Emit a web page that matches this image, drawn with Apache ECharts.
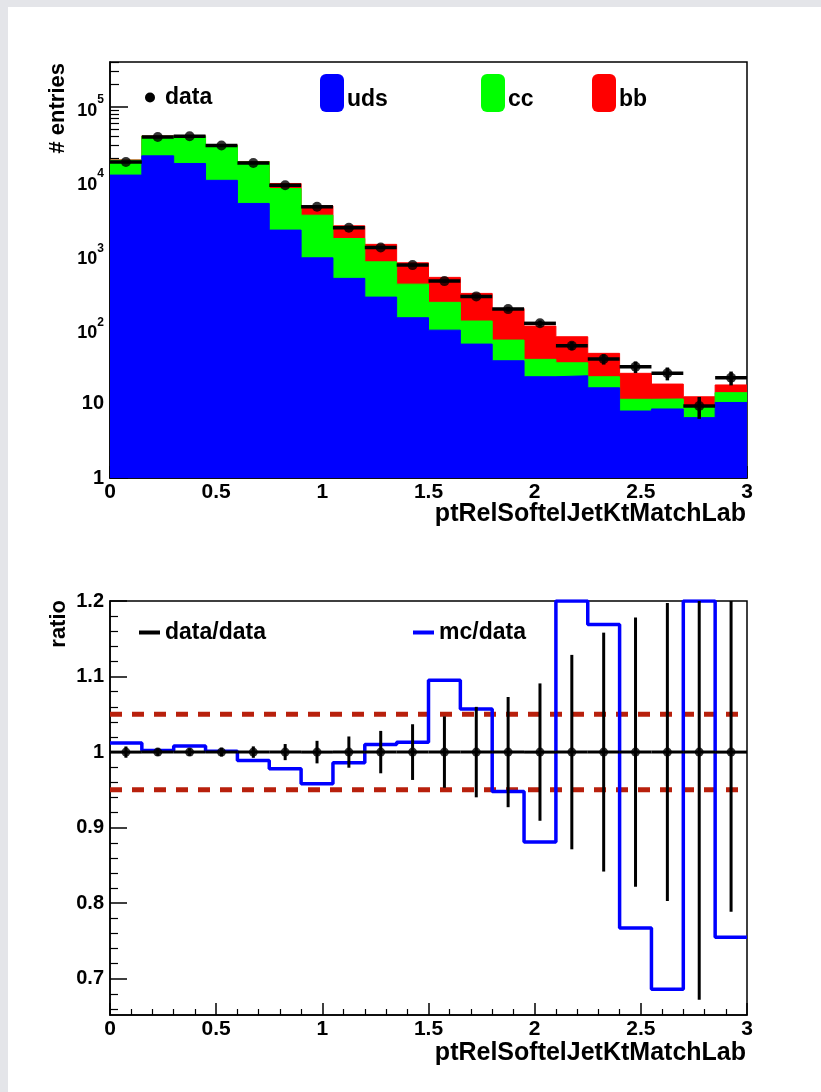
<!DOCTYPE html>
<html>
<head>
<meta charset="utf-8">
<script src="https://cdn.jsdelivr.net/npm/echarts@6/dist/echarts.min.js"></script>
<style>
  html, body { margin: 0; padding: 0; width: 821px; height: 1092px; overflow: hidden; background: #e4e5e9; }
  #chart { position: absolute; left: 8px; top: 7px; width: 813px; height: 1085px; background: #ffffff; }
</style>
</head>
<body>
<div id="chart"></div>
<script>
// Bin edges of ptRelSoftelJetKtMatchLab (20 bins of 0.15)
const edges = [0, 0.15, 0.3, 0.45, 0.6, 0.75, 0.9, 1.05, 1.2, 1.35, 1.5,
               1.65, 1.8, 1.95, 2.1, 2.25, 2.4, 2.55, 2.7, 2.85, 3.0];

// Simulated flavour components per bin (entries)
const uds = [12000, 21800, 17200, 10200, 4980, 2180, 923, 488, 273, 144,
             98, 63.6, 37.9, 23.1, 23.8, 16.4, 7.98, 8.5, 6.5, 10.4];
const cc  = [7000, 18200, 22800, 19800, 13020, 5720, 2537, 1192, 542, 264,
             134, 66.4, 34.1, 16.5, 11.8, 6.7, 3.5, 3.1, 2.9, 3.7];
const bb  = [200, 400, 500, 500, 300, 1350, 1160, 810, 585, 382,
             271, 176, 120, 71.4, 44.2, 24.6, 14.2, 6.8, 3.0, 3.8];

// Observed entries per bin
const dataCounts = [18000, 39000, 40000, 30000, 17500, 8780, 4490, 2340, 1270, 736,
                    448, 279, 188, 121, 60.4, 40, 31.5, 25.7, 9.3, 22.4];

// Simulation / data ratio per bin
const mcOverData = [1.012, 1.002, 1.008, 1.001, 0.989, 0.978, 0.958, 0.986, 1.010, 1.013,
                    1.095, 1.057, 0.948, 0.881, 1.32, 1.169, 0.767, 0.686, 1.33, 0.755];

// Reference band around unity
const bandLevels = [1.05, 0.95];

// Axis ticks
const xMajorTicks = [0, 0.5, 1, 1.5, 2, 2.5, 3];
const logMajorTicks = [1, 10, 100, 1000, 10000, 100000];
const ratioMajorTicks = [0.7, 0.8, 0.9, 1, 1.1, 1.2];

const X_MIN = 0, X_MAX = 3;
const LOG_MIN = 1, LOG_MAX = 4e5;
const R_MIN = 0.652, R_MAX = 1.2;

const FONT = '"Liberation Sans", Arial, Helvetica, sans-serif';

// minor tick positions (log axis: 2..9 x 10^n, in log10 units on a helper axis)
const logMinor = [];
for (let e = 0; e <= 5; e++) {
  for (let k = 2; k <= 9; k++) {
    const v = k * Math.pow(10, e);
    if (v <= LOG_MAX) logMinor.push(Math.log10(v));
  }
}
const ratioMinor = [];
for (let i = 0; i <= 30; i++) {
  const v = Math.round((0.66 + 0.02 * i) * 100) / 100;
  if (v <= R_MAX + 1e-9 && Math.abs(v * 10 - Math.round(v * 10)) > 1e-6) ratioMinor.push(v);
}

const nBins = dataCounts.length;
const centers = dataCounts.map((_, i) => (edges[i] + edges[i + 1]) / 2);
const stackUds = uds.slice();
const stackUdsCc = uds.map((v, i) => v + cc[i]);
const stackAll = uds.map((v, i) => v + cc[i] + bb[i]);

// histogram outline as step points (value held over each bin)
function stepPoints(vals, clampMax) {
  const pts = vals.map((v, i) => [edges[i], clampMax != null ? Math.min(v, clampMax) : v]);
  const last = vals[vals.length - 1];
  pts.push([edges[nBins], clampMax != null ? Math.min(last, clampMax) : last]);
  return pts;
}

// data points with Poisson errors
const dataErr = dataCounts.map((n, i) => [edges[i], edges[i + 1], n, n - Math.sqrt(n), n + Math.sqrt(n)]);
const ratioErr = dataCounts.map((n, i) => [edges[i], edges[i + 1], 1,
  Math.max(1 - 1 / Math.sqrt(n), R_MIN), Math.min(1 + 1 / Math.sqrt(n), R_MAX)]);

function errorBars(width) {
  return function (params, api) {
    const x0 = api.value(0), x1 = api.value(1), y = api.value(2), lo = api.value(3), hi = api.value(4);
    const xc = (x0 + x1) / 2;
    const pl = api.coord([x0, y]), pr = api.coord([x1, y]);
    const pb = api.coord([xc, lo]), pt = api.coord([xc, hi]);
    const st = { stroke: '#000', lineWidth: width };
    return {
      type: 'group',
      children: [
        { type: 'line', shape: { x1: pl[0], y1: pl[1], x2: pr[0], y2: pr[1] }, style: st },
        { type: 'line', shape: { x1: pb[0], y1: pb[1], x2: pt[0], y2: pt[1] }, style: st }
      ]
    };
  };
}

const labelText = { color: '#000', fontFamily: FONT, fontWeight: 'bold' };

function xAxisFor(gridIndex) {
  return {
    gridIndex: gridIndex, type: 'value', min: X_MIN, max: X_MAX, interval: 0.5,
    axisLine: { show: true, lineStyle: { color: '#000', width: 1.5 } },
    axisTick: { show: true, inside: true, length: 12, lineStyle: { color: '#000', width: 1.5 } },
    minorTick: { show: true, splitNumber: 5, length: 6, lineStyle: { color: '#000', width: 1.2 } },
    axisLabel: Object.assign({ fontSize: 21, margin: 4, formatter: v => String(v) }, labelText),
    splitLine: { show: false }
  };
}

function minorAxis(gridIndex, min, max, values, len) {
  return {
    gridIndex: gridIndex, type: 'value', min: min, max: max, position: 'left', offset: 0,
    axisLine: { show: false },
    axisTick: { show: true, inside: true, length: len, customValues: values, lineStyle: { color: '#000', width: 1.2 } },
    axisLabel: { show: false }, splitLine: { show: false }
  };
}

const legendText = Object.assign({ fontSize: 23 }, labelText);

// fill-box legend entry (coloured box, label slightly below box centre)
function boxLegend(name, color, left) {
  return {
    selectedMode: false, left: left, top: 67, padding: 0, itemWidth: 24, itemHeight: 38,
    formatter: n => '{t|' + n + '}',
    textStyle: Object.assign({ rich: { t: Object.assign({ padding: [14, 0, 0, -2] }, legendText) } }, legendText),
    data: [{ name: name, icon: 'roundRect', itemStyle: { color: color } }]
  };
}

function axisTitle(text, x, y, rotated) {
  return {
    type: 'text', x: x, y: y, rotation: rotated ? Math.PI / 2 : 0,
    style: {
      text: text, font: 'bold ' + (rotated ? 22 : 25) + 'px ' + FONT, fill: '#000',
      align: 'right', verticalAlign: rotated ? 'middle' : 'top',
      textAlign: 'right', textVerticalAlign: rotated ? 'middle' : 'top'
    }
  };
}

const gridBase = { left: 102, width: 637, show: true, borderColor: '#000', borderWidth: 1.5,
                   backgroundColor: 'transparent', containLabel: false, outerBoundsMode: 'none' };

const option = {
  animation: false,
  backgroundColor: '#ffffff',
  grid: [
    Object.assign({ top: 55, height: 416 }, gridBase),
    Object.assign({ top: 594, height: 414 }, gridBase)
  ],
  xAxis: [xAxisFor(0), xAxisFor(1)],
  yAxis: [
    {
      gridIndex: 0, type: 'log', logBase: 10, min: LOG_MIN, max: LOG_MAX, position: 'left',
      axisLine: { show: true, lineStyle: { color: '#000', width: 1.5 } },
      axisTick: { show: true, inside: true, length: 18, customValues: logMajorTicks, lineStyle: { color: '#000', width: 1.5 } },
      axisLabel: {
        customValues: logMajorTicks, margin: 6, color: '#000',
        formatter: v => {
          const e = Math.round(Math.log10(v));
          if (e === 0) return '{n|1}';
          if (e === 1) return '{n|10}';
          return '{b|10}{s|' + e + '}';
        },
        rich: {
          n: Object.assign({ fontSize: 20, lineHeight: 26 }, labelText),
          b: Object.assign({ fontSize: 18, lineHeight: 26, verticalAlign: 'bottom' }, labelText),
          s: Object.assign({ fontSize: 12, lineHeight: 26, verticalAlign: 'top' }, labelText)
        }
      },
      splitLine: { show: false }
    },
    {
      gridIndex: 1, type: 'value', min: R_MIN, max: R_MAX, position: 'left',
      axisLine: { show: true, lineStyle: { color: '#000', width: 1.5 } },
      axisTick: { show: true, inside: true, length: 17, customValues: ratioMajorTicks, lineStyle: { color: '#000', width: 1.5 } },
      axisLabel: Object.assign({ customValues: ratioMajorTicks, fontSize: 20, margin: 6, formatter: v => String(v) }, labelText),
      splitLine: { show: false }
    },
    minorAxis(0, 0, Math.log10(LOG_MAX), logMinor, 9),
    minorAxis(1, R_MIN, R_MAX, ratioMinor, 8)
  ],
  legend: [
    { selectedMode: false, left: 137, top: 79, padding: 0, itemWidth: 10, itemHeight: 10,
      textStyle: Object.assign({ padding: [0, 0, 0, 5] }, legendText),
      data: [{ name: 'data', icon: 'circle', itemStyle: { color: '#000' } }] },
    boxLegend('uds', '#0000ff', 312),
    boxLegend('cc', '#00ff00', 473),
    boxLegend('bb', '#ff0000', 584),
    { selectedMode: false, left: 131, top: 614, padding: 0, itemWidth: 21, itemHeight: 4,
      textStyle: legendText,
      data: [{ name: 'data/data', icon: 'rect', itemStyle: { color: '#000' } }] },
    { selectedMode: false, left: 405, top: 614, padding: 0, itemWidth: 21, itemHeight: 4,
      textStyle: legendText,
      data: [{ name: 'mc/data', icon: 'rect', itemStyle: { color: '#0000ff' } }] }
  ],
  graphic: [
    axisTitle('# entries', 50, 56, true),
    axisTitle('ratio', 51, 593, true),
    axisTitle('ptRelSoftelJetKtMatchLab', 738, 495, false),
    axisTitle('ptRelSoftelJetKtMatchLab', 738, 1034, false)
  ],
  series: [
    // stacked flavour histograms, drawn as cumulative filled steps
    { name: 'bb', type: 'line', xAxisIndex: 0, yAxisIndex: 0, step: 'end', symbol: 'none', z: 2,
      data: stepPoints(stackAll), lineStyle: { color: '#ff0000', width: 1 }, itemStyle: { color: '#ff0000' },
      areaStyle: { color: '#ff0000', opacity: 1, origin: 'start' } },
    { name: 'cc', type: 'line', xAxisIndex: 0, yAxisIndex: 0, step: 'end', symbol: 'none', z: 3,
      data: stepPoints(stackUdsCc), lineStyle: { color: '#00ff00', width: 1 }, itemStyle: { color: '#00ff00' },
      areaStyle: { color: '#00ff00', opacity: 1, origin: 'start' } },
    { name: 'uds', type: 'line', xAxisIndex: 0, yAxisIndex: 0, step: 'end', symbol: 'none', z: 4,
      data: stepPoints(stackUds), lineStyle: { color: '#0000ff', width: 1 }, itemStyle: { color: '#0000ff' },
      areaStyle: { color: '#0000ff', opacity: 1, origin: 'start' } },
    // data with errors
    { name: 'data', type: 'custom', xAxisIndex: 0, yAxisIndex: 0, z: 6,
      renderItem: errorBars(3.5), encode: { x: [0, 1], y: [2, 3, 4] }, data: dataErr, itemStyle: { color: '#000' } },
    { name: 'data', type: 'scatter', xAxisIndex: 0, yAxisIndex: 0, z: 7, symbol: 'circle', symbolSize: 10,
      itemStyle: { color: '#000' }, data: dataCounts.map((n, i) => [centers[i], n]) },

    // ratio panel
    { name: 'band', type: 'line', xAxisIndex: 1, yAxisIndex: 1, symbol: 'none', z: 3,
      data: [[X_MIN, bandLevels[0]], [X_MAX, bandLevels[0]]],
      lineStyle: { color: '#b8200c', width: 5, type: [12, 10] } },
    { name: 'band', type: 'line', xAxisIndex: 1, yAxisIndex: 1, symbol: 'none', z: 3,
      data: [[X_MIN, bandLevels[1]], [X_MAX, bandLevels[1]]],
      lineStyle: { color: '#b8200c', width: 5, type: [12, 10] } },
    { name: 'data/data', type: 'custom', xAxisIndex: 1, yAxisIndex: 1, z: 5,
      renderItem: errorBars(3), encode: { x: [0, 1], y: [2, 3, 4] }, data: ratioErr, itemStyle: { color: '#000' } },
    { name: 'data/data', type: 'scatter', xAxisIndex: 1, yAxisIndex: 1, z: 6, symbol: 'circle', symbolSize: 9,
      itemStyle: { color: '#000' }, data: centers.map(c => [c, 1]) },
    { name: 'mc/data', type: 'line', xAxisIndex: 1, yAxisIndex: 1, step: 'end', symbol: 'none', z: 4,
      data: stepPoints(mcOverData, R_MAX), lineStyle: { color: '#0000ff', width: 3.5 }, itemStyle: { color: '#0000ff' } }
  ]
};

const chart = echarts.init(document.getElementById('chart'), null, { renderer: 'canvas' });
chart.setOption(option);
</script>
</body>
</html>
